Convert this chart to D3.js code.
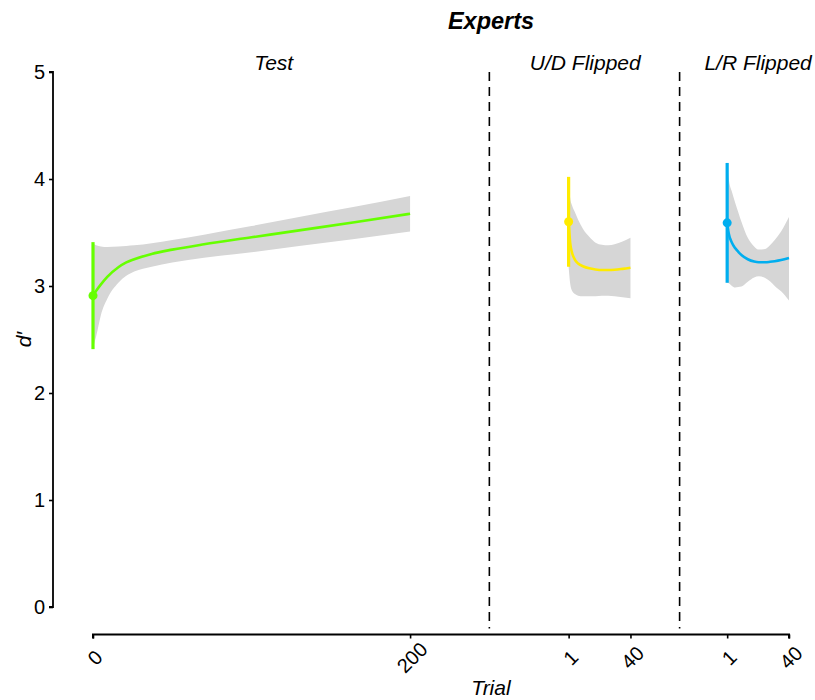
<!DOCTYPE html>
<html>
<head>
<meta charset="utf-8">
<script src="https://cdn.jsdelivr.net/npm/d3@7"></script>
<style>
  html, body { margin: 0; padding: 0; background: #fff; }
  svg { display: block; font-family: "Liberation Sans", Arial, Helvetica, sans-serif; }
</style>
</head>
<body>
<svg id="chart" width="815" height="700"></svg>
<script>
// ---- data -------------------------------------------------------------
const panels = ["Test", "U/D Flipped", "L/R Flipped"];
const yTicks = [0, 1, 2, 3, 4, 5];
const xTickLabels = ["0", "200", "1", "40", "1", "40"];

// Test block: fitted d' with its confidence band, first-trial estimate ± CI
const testTrials = [0, 2, 5, 9, 16, 21, 26, 37, 50, 70, 100, 130, 165, 200];
const testFit    = [2.91, 2.955, 3.015, 3.085, 3.175, 3.22, 3.25, 3.30, 3.34, 3.39, 3.455, 3.52, 3.595, 3.675];
const testUpper  = [3.40, 3.38, 3.37, 3.365, 3.37, 3.375, 3.38, 3.40, 3.43, 3.48, 3.56, 3.645, 3.74, 3.84];
const testLower  = [2.42, 2.53, 2.73, 2.88, 3.03, 3.095, 3.135, 3.18, 3.22, 3.265, 3.315, 3.375, 3.44, 3.51];
const testStart  = { trial: 0, d: 2.91, lo: 2.41, hi: 3.41 };

// Up/down flipped block
const udTrials = [1, 2, 3, 5, 7, 10, 14, 18, 22, 26, 30, 35, 40];
const udFit    = [3.60, 3.40, 3.32, 3.245, 3.21, 3.185, 3.165, 3.155, 3.15, 3.15, 3.152, 3.16, 3.17];
const udUpper  = [4.00, 3.82, 3.76, 3.69, 3.62, 3.535, 3.46, 3.405, 3.385, 3.38, 3.39, 3.415, 3.45];
const udLower  = [3.18, 3.02, 2.96, 2.925, 2.91, 2.905, 2.905, 2.905, 2.91, 2.91, 2.905, 2.895, 2.885];
const udStart  = { trial: 1, d: 3.60, lo: 3.18, hi: 4.02 };

// Left/right flipped block
const lrTrials = [1, 2, 4, 6, 8, 10, 14, 18, 21, 25, 28, 31, 35, 40];
const lrFit    = [3.59, 3.49, 3.405, 3.355, 3.32, 3.29, 3.25, 3.228, 3.222, 3.222, 3.226, 3.232, 3.243, 3.262];
const lrUpper  = [4.15, 4.00, 3.88, 3.78, 3.69, 3.60, 3.45, 3.37, 3.34, 3.345, 3.38, 3.43, 3.51, 3.645];
const lrLower  = [3.03, 3.025, 3.00, 2.985, 2.99, 2.995, 3.04, 3.08, 3.09, 3.075, 3.045, 3.00, 2.95, 2.865];
const lrStart  = { trial: 1, d: 3.59, lo: 3.03, hi: 4.15 };

// ---- layout -----------------------------------------------------------
// The three blocks share one running trial axis; each block is shifted
// along it and separated by a dashed divider.
const blockOffset = { "Test": 0, "U/D Flipped": 299, "L/R Flipped": 399 };
const axisEnd = 439;                  // last position on the running axis
const dividers = [250, 370];          // running-axis positions of the dividers
const labelPos = [114, 310.5, 419.5]; // running-axis centres of the block labels
const xTickPos = [0, 200, 1 + 299, 40 + 299, 1 + 399, 40 + 399];

const colors = { "Test": "#66ff00", "U/D Flipped": "#ffeb00", "L/R Flipped": "#00aeef" };
const bandColor = "#d6d6d6";

const svg = d3.select("#chart");
const x = d3.scaleLinear().domain([0, axisEnd]).range([93, 789]);
const y = d3.scaleLinear().domain([0, 5]).range([607, 72]);

const blocks = [
  { name: "Test",        t: testTrials, fit: testFit, up: testUpper, lo: testLower, start: testStart },
  { name: "U/D Flipped", t: udTrials,   fit: udFit,   up: udUpper,   lo: udLower,   start: udStart },
  { name: "L/R Flipped", t: lrTrials,   fit: lrFit,   up: lrUpper,   lo: lrLower,   start: lrStart }
];

// ---- confidence bands -------------------------------------------------
const area = d3.area()
  .x(d => x(d.t))
  .y0(d => y(d.lo))
  .y1(d => y(d.up))
  .curve(d3.curveMonotoneX);
const line = d3.line()
  .x(d => x(d.t))
  .y(d => y(d.v))
  .curve(d3.curveMonotoneX);

blocks.forEach(b => {
  const off = blockOffset[b.name];
  const rows = b.t.map((t, i) => ({ t: t + off, v: b.fit[i], up: b.up[i], lo: b.lo[i] }));
  svg.append("path")
    .datum(rows)
    .attr("d", area)
    .attr("fill", bandColor);
});

// ---- dividers ---------------------------------------------------------
svg.append("g").selectAll("line")
  .data(dividers)
  .join("line")
  .attr("x1", d => x(d)).attr("x2", d => x(d))
  .attr("y1", y(5)).attr("y2", y(-0.2))
  .attr("stroke", "#000")
  .attr("stroke-width", 1.6)
  .attr("stroke-dasharray", "9,6");

// ---- fitted curves, start estimates ----------------------------------
blocks.forEach(b => {
  const off = blockOffset[b.name];
  const c = colors[b.name];
  const rows = b.t.map((t, i) => ({ t: t + off, v: b.fit[i] }));
  svg.append("path")
    .datum(rows)
    .attr("d", line)
    .attr("fill", "none")
    .attr("stroke", c)
    .attr("stroke-width", 2.6);
  const s = b.start;
  svg.append("line")
    .attr("x1", x(s.trial + off)).attr("x2", x(s.trial + off))
    .attr("y1", y(s.lo)).attr("y2", y(s.hi))
    .attr("stroke", c)
    .attr("stroke-width", 3.2);
  svg.append("circle")
    .attr("cx", x(s.trial + off))
    .attr("cy", y(s.d))
    .attr("r", 4.5)
    .attr("fill", c);
});

// ---- axes -------------------------------------------------------------
const yAxis = svg.append("g")
  .attr("transform", "translate(53,0)")
  .call(d3.axisLeft(y).tickValues(yTicks).tickFormat(d3.format("d")).tickSize(4).tickPadding(4));
yAxis.attr("font-size", null);
yAxis.select(".domain").attr("stroke-width", 1.8).attr("d", `M-4,${y(5)}H0V${y(0)}H-4`);
yAxis.selectAll(".tick line").attr("stroke-width", 1.6);
yAxis.selectAll(".tick text")
  .style("font-size", "20px")
  .attr("fill", "#000");

const xAxis = svg.append("g")
  .attr("transform", "translate(0,634.5)")
  .call(d3.axisBottom(x).tickValues(xTickPos).tickSize(4)
    .tickFormat((d, i) => xTickLabels[i]));
xAxis.attr("font-size", null);
xAxis.select(".domain").attr("stroke-width", 2).attr("d", `M${x(0)},4V0H${x(axisEnd)}V4`);
xAxis.selectAll(".tick line").attr("stroke-width", 1.6);
xAxis.selectAll(".tick text")
  .style("font-size", "20px")
  .attr("fill", "#000")
  .attr("text-anchor", "middle")
  .attr("dominant-baseline", "central")
  .attr("y", 0).attr("dy", 0)
  .attr("transform", "translate(1.5,23) rotate(-45)");

// ---- text -------------------------------------------------------------
svg.append("text")
  .attr("x", 491).attr("y", 28.5)
  .attr("text-anchor", "middle")
  .style("font-size", "23.5px")
  .attr("font-weight", "bold")
  .attr("font-style", "italic")
  .text("Experts");

svg.append("g").selectAll("text")
  .data(panels)
  .join("text")
  .attr("x", (d, i) => x(labelPos[i]))
  .attr("y", 69.5)
  .attr("text-anchor", "middle")
  .style("font-size", "21px")
  .attr("font-style", "italic")
  .text(d => d);

svg.append("text")
  .attr("x", 491).attr("y", 695)
  .attr("text-anchor", "middle")
  .style("font-size", "21px")
  .attr("font-style", "italic")
  .text("Trial");

svg.append("text")
  .attr("transform", `translate(31,${y(2.5)}) rotate(-90)`)
  .attr("text-anchor", "middle")
  .style("font-size", "21px")
  .attr("font-style", "italic")
  .text("d′");
</script>
</body>
</html>
